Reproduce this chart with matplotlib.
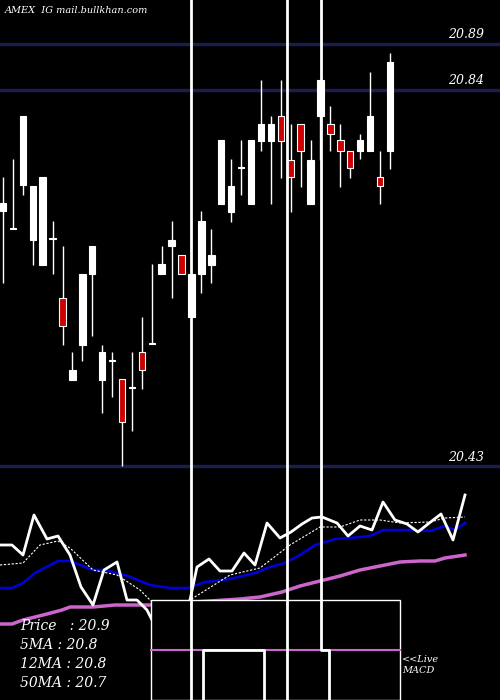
import matplotlib.pyplot as plt
import numpy as np

# candles: open, high, low, close
opens  = [20.708, 20.688, 20.736, 20.677, 20.649, 20.678, 20.613, 20.524, 20.562, 20.639,
          20.524, 20.545, 20.525, 20.515, 20.555, 20.563, 20.639, 20.670, 20.660, 20.593,
          20.639, 20.649, 20.716, 20.707, 20.755, 20.716, 20.784, 20.784, 20.812, 20.764,
          20.803, 20.716, 20.812, 20.803, 20.785, 20.774, 20.774, 20.774, 20.745, 20.774]
closes = [20.717, 20.688, 20.812, 20.735, 20.745, 20.678, 20.583, 20.535, 20.640, 20.670,
          20.555, 20.545, 20.478, 20.515, 20.535, 20.563, 20.650, 20.677, 20.639, 20.640,
          20.697, 20.660, 20.785, 20.735, 20.755, 20.785, 20.803, 20.803, 20.784, 20.745,
          20.773, 20.764, 20.851, 20.792, 20.774, 20.755, 20.785, 20.812, 20.735, 20.870]
highs  = [20.745, 20.765, 20.812, 20.735, 20.745, 20.697, 20.670, 20.555, 20.640, 20.670,
          20.562, 20.555, 20.525, 20.555, 20.593, 20.650, 20.670, 20.697, 20.660, 20.640,
          20.708, 20.688, 20.785, 20.765, 20.785, 20.785, 20.851, 20.812, 20.851, 20.803,
          20.803, 20.785, 20.851, 20.822, 20.803, 20.774, 20.792, 20.860, 20.774, 20.880]
lows   = [20.630, 20.688, 20.726, 20.649, 20.649, 20.640, 20.562, 20.524, 20.545, 20.572,
          20.488, 20.505, 20.430, 20.468, 20.514, 20.563, 20.639, 20.613, 20.639, 20.593,
          20.619, 20.630, 20.716, 20.696, 20.726, 20.716, 20.773, 20.716, 20.744, 20.707,
          20.734, 20.716, 20.764, 20.773, 20.734, 20.744, 20.765, 20.774, 20.716, 20.754]

levels = [20.89, 20.84, 20.43]

# lower panel (indicator scale, pixel-like units, larger = lower)
price_x = [0, 12, 23, 34, 47, 58, 70, 81, 93, 104, 117, 127, 137, 147, 157, 170, 180, 190, 197,
           209, 220, 232, 244, 255, 267, 280, 291, 302, 312, 322, 337, 348, 360, 372, 383, 395,
           407, 418, 428, 441, 453, 465]
price_y = [545, 545, 555, 515, 539, 536, 555, 587, 605, 570, 562, 600, 600, 610, 630, 640, 620,
           600, 567, 559, 571, 571, 553, 565, 523, 538, 532, 524, 518, 517, 523, 536, 526, 530,
           502, 520, 524, 532, 524, 514, 540, 495]
ma5_x = [0, 23, 40, 58, 70, 93, 117, 140, 160, 190, 230, 260, 290, 320, 340, 360, 380, 400, 430, 445, 465]
ma5_y = [565, 563, 545, 541, 548, 570, 575, 590, 610, 600, 575, 568, 545, 527, 527, 520, 520, 523, 522, 518, 517]
ma12_x = [0, 12, 23, 35, 58, 70, 93, 105, 128, 150, 170, 188, 205, 230, 255, 270, 285, 300, 315,
          335, 350, 370, 383, 410, 430, 445, 455, 465]
ma12_y = [588, 588, 583, 573, 561, 561, 570, 570, 576, 585, 588, 588, 582, 579, 573, 567, 563,
          555, 545, 539, 538, 536, 530, 530, 531, 526, 530, 523]
ma50_x = [0, 12, 23, 47, 62, 70, 93, 115, 150, 240, 260, 282, 300, 320, 340, 360, 380, 400, 420, 435, 445, 465]
ma50_y = [624, 624, 620, 614, 610, 607, 607, 605, 605, 599, 597, 592, 586, 581, 576, 570, 566, 562, 561, 561, 558, 555]

info = ["Price   : 20.9", "5MA : 20.8", "12MA : 20.8", "50MA : 20.7"]

fig = plt.figure(figsize=(5, 7), dpi=100, facecolor="black")

# price panel
ax = fig.add_axes([0, 1 - 470 / 700, 1, 470 / 700])
ax.set_facecolor("black")
ax.set_xlim(-0.3, 50.1)
ax.set_ylim(20.426, 20.938)
ax.axis("off")
for lv in levels:
    ax.axhline(lv, color="#1c1c50", lw=2.5, zorder=1)
    ax.text(48.5, lv + 0.003, f"{lv:.2f}", color="white", ha="right", va="bottom",
            family="DejaVu Serif", style="italic", fontsize=9)
ax.text(0.2, 20.927, "AMEX  IG mail.bullkhan.com", color="white", family="DejaVu Serif",
        style="italic", fontsize=7, va="center")
idx = np.arange(len(opens))
for i, o, c, h, l in zip(idx, opens, closes, highs, lows):
    col = "white" if c >= o else "#cc0000"
    ax.vlines(i, l, h, color="white", lw=1, zorder=2)
    b = max(abs(c - o), 0.0012)
    ax.bar(i, b, bottom=min(o, c), width=0.65, color=col, edgecolor="white", lw=0.8, zorder=3)

# indicator panel
ax2 = fig.add_axes([0, 0, 1, 230 / 700])
ax2.set_facecolor("black")
ax2.set_xlim(0, 500)
ax2.set_ylim(700, 470)
ax2.axis("off")
ax2.plot(ma50_x, ma50_y, color="#cc66cc", lw=2.5)
ax2.plot(ma12_x, ma12_y, color="#0000dd", lw=1.8)
ax2.plot(ma5_x, ma5_y, color="white", lw=0.8, ls=(0, (2, 1.5)))
ax2.plot(price_x, price_y, color="white", lw=2)
ax2.add_patch(plt.Rectangle((151, 600), 249, 100, facecolor="black", edgecolor="white", lw=1, zorder=5))
ax2.plot([151, 400], [650, 650], color="#cc66cc", lw=1.5, zorder=6)
ax2.plot([203, 203, 264, 264], [700, 650, 650, 700], color="white", lw=2, zorder=6)
for k, t in enumerate(info):
    ax2.text(20, 626 + k * 19, t, color="white", family="DejaVu Serif", style="italic",
             fontsize=10, va="center", zorder=7)
ax2.text(402, 665, "<<Live\nMACD", color="white", family="DejaVu Serif", style="italic",
         fontsize=7, va="center", zorder=7)

# full-height white markers
ov = fig.add_axes([0, 0, 1, 1], facecolor="none")
ov.set_xlim(0, 500)
ov.set_ylim(700, 0)
ov.axis("off")
for xs in ([191, 191], [287, 287], [321, 321, 329, 329]):
    ys = [0, 700] if len(xs) == 2 else [0, 650, 650, 700]
    ov.plot(xs, ys, color="white", lw=2)

fig.savefig("out.png", facecolor="black")
